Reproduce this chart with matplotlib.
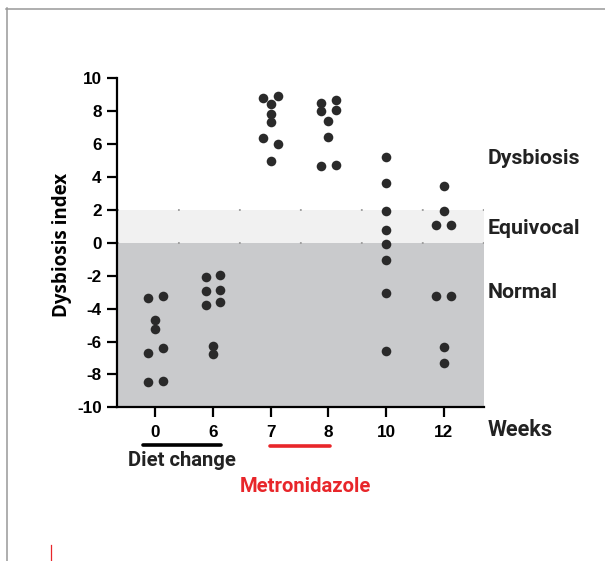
import matplotlib.pyplot as plt
from matplotlib.lines import Line2D
import matplotlib.transforms as mtransforms

plt.rcParams['axes.unicode_minus'] = False
plt.rcParams['lines.scale_dashes'] = False

# Dysbiosis index per sampling week
weeks = ['0', '6', '7', '8', '10', '12']
week0 = [-3.34, -3.22, -4.72, -5.27, -6.71, -6.40, -8.47, -8.39]
week6 = [-2.05, -1.95, -2.94, -2.88, -3.79, -3.59, -6.26, -6.77]
week7 = [8.83, 8.92, 8.41, 7.82, 7.36, 6.40, 6.00, 4.98]
week8 = [8.47, 8.67, 8.04, 8.10, 7.40, 6.44, 4.66, 4.72]
week10 = [5.19, 3.63, 1.93, 0.75, -0.05, -1.03, -3.06, -6.55]
week12 = [3.47, 1.93, 1.07, 1.11, -3.22, -3.22, -6.36, -7.29]
groups = [week0, week6, week7, week8, week10, week12]

zones = ['Dysbiosis', 'Equivocal', 'Normal']
zone_y = [5.15, 0.84, -3.0]


def spread(vals, thresh=0.43, step=0.253):
    # points of about the same value share a row and sit side by side
    order = sorted(range(len(vals)), key=lambda i: -vals[i])
    rows = []
    for i in order:
        if rows and vals[rows[-1][0]] - vals[i] < thresh:
            rows[-1].append(i)
        else:
            rows.append([i])
    off = [0.0] * len(vals)
    for r in rows:
        r = sorted(r)
        for k, i in enumerate(r):
            off[i] = (k - (len(r) - 1) / 2) * step
    return off


fig = plt.figure(figsize=(6.05, 5.61), dpi=100)
ax = fig.add_axes([117 / 605, 1 - 407.3 / 561, 367 / 605, 329 / 561])

ax.set_xlim(-0.664, 5.70)
ax.set_ylim(-10, 10)

# background bands
ax.axhspan(-10, 0, color='#c9cacc', lw=0, zorder=0)
ax.axhspan(0, 2, color='#f1f1f1', lw=0, zorder=0)
for yv in [0, 2]:
    ax.axhline(yv, color='#9a9a9a', lw=1.3, linestyle=(0, (1.3, 42.6)), zorder=1)

for i, vals in enumerate(groups):
    off = spread(vals)
    xs = [i + o for o in off]
    ax.scatter(xs, vals, s=48, color='#2a2a2a', lw=0, zorder=3, clip_on=False)

ax.set_xticks(range(len(weeks)))
ax.set_xticklabels(weeks)
ax.set_yticks(range(-10, 11, 2))

for s in ['top', 'right']:
    ax.spines[s].set_visible(False)
for s in ['left', 'bottom']:
    ax.spines[s].set_linewidth(1.6)
ax.tick_params(axis='both', width=1.6, length=7, pad=4)
ax.tick_params(axis='x', pad=6)
for lab in ax.get_xticklabels() + ax.get_yticklabels():
    lab.set_fontfamily(['Liberation Sans', 'DejaVu Sans'])
    lab.set_fontweight('bold')
    lab.set_fontsize(12.3)

ax.text(62.5 / 605, 1 - 245 / 561, 'Dysbiosis index', transform=fig.transFigure,
        rotation=90, ha='center', va='center', fontsize=13.5, fontweight='bold',
        family=['Open Sans', 'DejaVu Sans'])

for name, yv in zip(zones, zone_y):
    ax.text(1.011, yv, name, transform=ax.get_yaxis_transform(), ha='left', va='center',
            fontsize=15.3, fontweight='bold', color='#222222', family=['Roboto', 'DejaVu Sans'])
ax.text(1.011, -0.069, 'Weeks', transform=ax.transAxes, ha='left', va='center',
        fontsize=15.6, fontweight='bold', color='#222222', family=['Roboto', 'DejaVu Sans'])

# treatment bars under the axis
trans = mtransforms.blended_transform_factory(ax.transData, ax.transAxes)
ax.add_line(Line2D([-0.21, 1.14], [-0.116, -0.116], transform=trans, color='black',
                   lw=2.6, solid_capstyle='round', clip_on=False))
ax.add_line(Line2D([1.99, 3.03], [-0.118, -0.118], transform=trans, color='#e8262a',
                   lw=2.6, solid_capstyle='round', clip_on=False))
ax.text(0.47, -0.178, 'Diet change', transform=trans, ha='center', va='baseline',
        fontsize=14.6, fontweight='bold', color='#222222', family=['Roboto', 'DejaVu Sans'])
ax.text(2.61, -0.2574, 'Metronidazole', transform=trans, ha='center', va='baseline',
        fontsize=14.6, fontweight='bold', color='#e8262a', family=['Roboto', 'DejaVu Sans'])

# page frame
fig.add_artist(Line2D([6 / 605, 1], [1 - 8.5 / 561, 1 - 8.5 / 561], color='#999999', lw=1.1))
fig.add_artist(Line2D([6.5 / 605, 6.5 / 605], [0, 1 - 8 / 561], color='#999999', lw=1.1))
fig.add_artist(Line2D([51 / 605, 51 / 605], [0, 16 / 561], color='#e8262a', lw=0.9))

fig.savefig('out.png', dpi=100)
